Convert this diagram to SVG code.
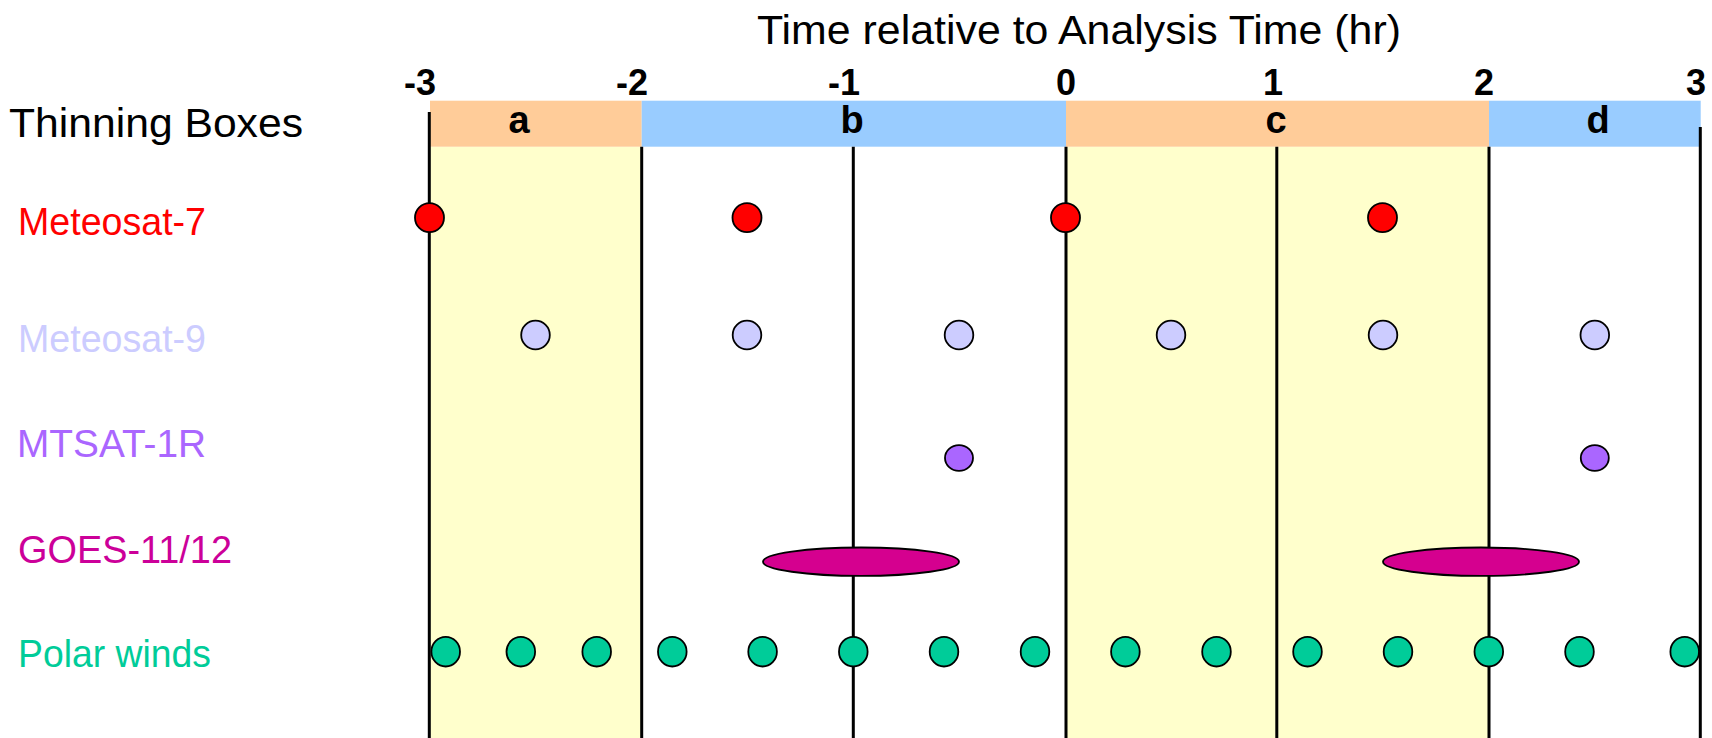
<svg xmlns="http://www.w3.org/2000/svg" width="1712" height="738" viewBox="0 0 1712 738">
<style>
  text { font-family: "Liberation Sans", Arial, Helvetica, sans-serif; }
  .title { font-size: 40px; fill: #000; }
  .tick { font-size: 36px; font-weight: bold; fill: #000; text-anchor: middle; }
  .box { font-size: 38px; font-weight: bold; fill: #000; text-anchor: middle; }
  .lbl { font-size: 39px; }
  .grid { stroke: #000; stroke-width: 3; fill: none; }
  .dot { stroke: #000; stroke-width: 1.8; }
  .m7 { fill: #FF0000; }
  .m9 { fill: #CCCCFF; }
  .mt { fill: #AA66FF; }
  .go { fill: #D5008F; }
  .pw { fill: #00CC99; }
</style>

<rect width="1712" height="738" fill="#FFFFFF"/>

<g id="shading">
  <rect x="429.5" y="146.7" width="212" height="592" fill="#FFFFCC"/>
  <rect x="1066" y="146.7" width="423" height="592" fill="#FFFFCC"/>
</g>

<g id="thinning-boxes">
  <rect x="430" y="100.7" width="211.7" height="46" fill="#FFCC99"/>
  <rect x="641.7" y="100.7" width="424.3" height="46" fill="#99CCFF"/>
  <rect x="1066" y="100.7" width="423" height="46" fill="#FFCC99"/>
  <rect x="1489" y="100.7" width="211.7" height="46" fill="#99CCFF"/>
  <text class="box" x="519" y="132.7">a</text>
  <text class="box" x="852" y="132.7">b</text>
  <text class="box" x="1276" y="132.7">c</text>
  <text class="box" x="1598" y="132.7">d</text>
  <text x="9" y="137.3" font-size="40" fill="#000" textLength="294" lengthAdjust="spacingAndGlyphs">Thinning Boxes</text>
</g>

<g id="axis">
  <text class="title" x="757" y="43.5" textLength="644" lengthAdjust="spacingAndGlyphs">Time relative to Analysis Time (hr)</text>
  <text class="tick" x="420" y="95">-3</text>
  <text class="tick" x="632" y="95">-2</text>
  <text class="tick" x="844" y="95">-1</text>
  <text class="tick" x="1066" y="95">0</text>
  <text class="tick" x="1273" y="95">1</text>
  <text class="tick" x="1484" y="95">2</text>
  <text class="tick" x="1696" y="95">3</text>
</g>

<g id="gridlines">
  <line class="grid" x1="429.3" y1="112" x2="429.3" y2="738"/>
  <line class="grid" x1="641.7" y1="146.7" x2="641.7" y2="738"/>
  <line class="grid" x1="853.3" y1="146.7" x2="853.3" y2="738"/>
  <line class="grid" x1="1066" y1="146.7" x2="1066" y2="738"/>
  <line class="grid" x1="1276.8" y1="146.7" x2="1276.8" y2="738"/>
  <line class="grid" x1="1489" y1="146.7" x2="1489" y2="738"/>
  <line class="grid" x1="1700.3" y1="127" x2="1700.3" y2="738"/>
</g>

<g id="meteosat-7">
  <text class="lbl" x="18" y="235" fill="#FF0000" textLength="188" lengthAdjust="spacingAndGlyphs">Meteosat-7</text>
  <g id="m7-1"><circle class="dot m7" cx="429.5" cy="217.7" r="14.5"/></g>
  <g id="m7-2"><circle class="dot m7" cx="747" cy="217.7" r="14.5"/></g>
  <g id="m7-3"><circle class="dot m7" cx="1065.5" cy="217.7" r="14.5"/></g>
  <g id="m7-4"><circle class="dot m7" cx="1382.5" cy="217.7" r="14.5"/></g>
</g>

<g id="meteosat-9">
  <text class="lbl" x="18" y="351.7" fill="#CCCCFF" textLength="188" lengthAdjust="spacingAndGlyphs">Meteosat-9</text>
  <g id="m9-1"><circle class="dot m9" cx="535.5" cy="335" r="14.3"/></g>
  <g id="m9-2"><circle class="dot m9" cx="747" cy="335" r="14.3"/></g>
  <g id="m9-3"><circle class="dot m9" cx="959" cy="335" r="14.3"/></g>
  <g id="m9-4"><circle class="dot m9" cx="1171" cy="335" r="14.3"/></g>
  <g id="m9-5"><circle class="dot m9" cx="1383" cy="335" r="14.3"/></g>
  <g id="m9-6"><circle class="dot m9" cx="1594.8" cy="335" r="14.3"/></g>
</g>

<g id="mtsat-1r">
  <text class="lbl" x="17" y="457.3" fill="#AA66FF" textLength="189" lengthAdjust="spacingAndGlyphs">MTSAT-1R</text>
  <g id="mt-1"><ellipse class="dot mt" cx="959" cy="458" rx="14" ry="12.8"/></g>
  <g id="mt-2"><ellipse class="dot mt" cx="1594.8" cy="458" rx="14" ry="12.8"/></g>
</g>

<g id="goes-11-12">
  <text class="lbl" x="18" y="563.3" fill="#CC0099" textLength="214" lengthAdjust="spacingAndGlyphs">GOES-11/12</text>
  <g id="goes-1"><ellipse class="dot go" cx="861" cy="561.7" rx="98" ry="14.2"/></g>
  <g id="goes-2"><ellipse class="dot go" cx="1481" cy="561.7" rx="98" ry="14.2"/></g>
</g>

<g id="polar-winds">
  <text class="lbl" x="18" y="666.7" fill="#00CC99" textLength="193" lengthAdjust="spacingAndGlyphs">Polar winds</text>
  <g id="pw-1"><ellipse class="dot pw" cx="445.7" cy="651.7" rx="14.3" ry="14.8"/></g>
  <g id="pw-2"><ellipse class="dot pw" cx="520.8" cy="651.7" rx="14.3" ry="14.8"/></g>
  <g id="pw-3"><ellipse class="dot pw" cx="596.7" cy="651.7" rx="14.3" ry="14.8"/></g>
  <g id="pw-4"><ellipse class="dot pw" cx="672.3" cy="651.7" rx="14.3" ry="14.8"/></g>
  <g id="pw-5"><ellipse class="dot pw" cx="762.6" cy="651.7" rx="14.3" ry="14.8"/></g>
  <g id="pw-6"><ellipse class="dot pw" cx="853.3" cy="651.7" rx="14.3" ry="14.8"/></g>
  <g id="pw-7"><ellipse class="dot pw" cx="944" cy="651.7" rx="14.3" ry="14.8"/></g>
  <g id="pw-8"><ellipse class="dot pw" cx="1035" cy="651.7" rx="14.3" ry="14.8"/></g>
  <g id="pw-9"><ellipse class="dot pw" cx="1125.4" cy="651.7" rx="14.3" ry="14.8"/></g>
  <g id="pw-10"><ellipse class="dot pw" cx="1216.5" cy="651.7" rx="14.3" ry="14.8"/></g>
  <g id="pw-11"><ellipse class="dot pw" cx="1307.5" cy="651.7" rx="14.3" ry="14.8"/></g>
  <g id="pw-12"><ellipse class="dot pw" cx="1398" cy="651.7" rx="14.3" ry="14.8"/></g>
  <g id="pw-13"><ellipse class="dot pw" cx="1488.8" cy="651.7" rx="14.3" ry="14.8"/></g>
  <g id="pw-14"><ellipse class="dot pw" cx="1579.5" cy="651.7" rx="14.3" ry="14.8"/></g>
  <g id="pw-15"><ellipse class="dot pw" cx="1684.7" cy="651.7" rx="14.3" ry="14.8"/></g>
</g>
</svg>
